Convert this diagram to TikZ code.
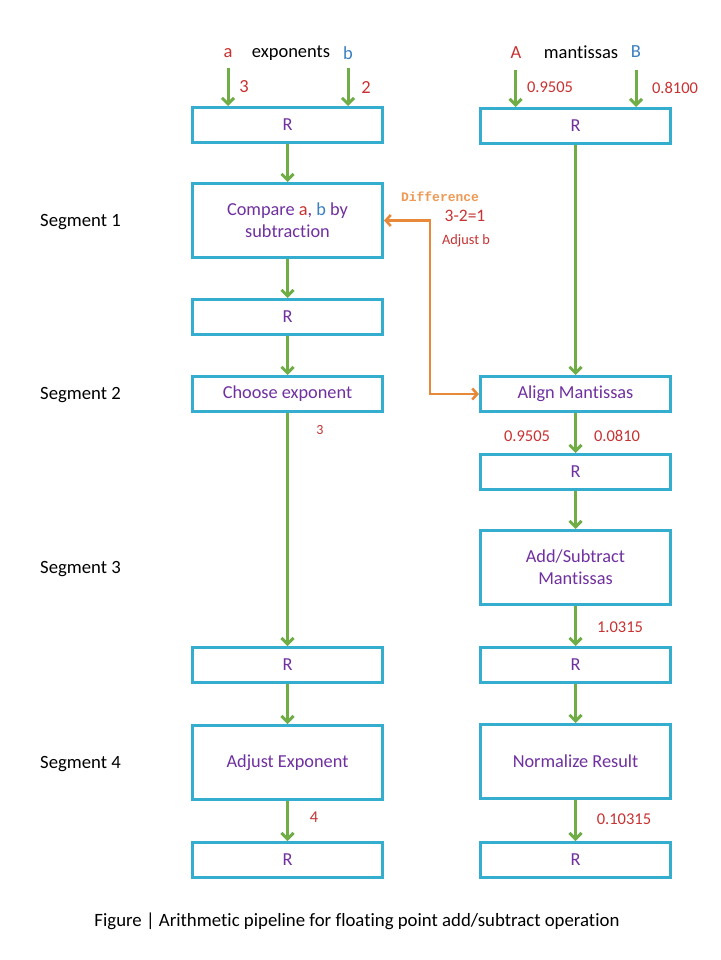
\documentclass[tikz,border=0pt]{standalone}
\usepackage{fontspec}
\setmainfont{Carlito}[Ligatures=NoCommon]
\newfontfamily\monofont{Liberation Mono}
\usetikzlibrary{arrows.meta}
\definecolor{boxblue}{HTML}{35ADCF}
\definecolor{agreen}{HTML}{70AD47}
\definecolor{txtpurple}{HTML}{7030A0}
\definecolor{lblred}{HTML}{C83232}
\definecolor{lblblue}{HTML}{3A80C0}
\definecolor{aorange}{HTML}{E8893A}
\definecolor{dorange}{HTML}{EE9A55}
\begin{document}
\begin{tikzpicture}[x=1pt,y=-1pt,
  box/.style={draw=boxblue, line width=3pt, minimum width=190pt, minimum height=35pt,
    inner sep=0pt, text=txtpurple, font=\fontsize{18.3}{22}\selectfont, align=center},
  tallbox/.style={box, minimum height=74pt},
  garrow/.style={draw=agreen, line width=3pt, -{Straight Barb[length=6pt,width=12pt]}},
  oarrow/.style={draw=aorange, line width=2.6pt, {Straight Barb[length=5pt,width=11pt]}-{Straight Barb[length=5pt,width=11pt]}},
  lbl/.style={text=lblred, font=\fontsize{16.5}{19}\selectfont, inner sep=0pt},
  slbl/.style={text=lblred, font=\fontsize{14}{16}\selectfont, inner sep=0pt},
  seg/.style={anchor=west, font=\fontsize{18.7}{22}\selectfont, inner sep=0pt},
  head/.style={font=\fontsize{18.5}{22}\selectfont, inner sep=0pt}
]
\useasboundingbox[fill=white] (0,0) rectangle (720,960);

% left column
\node[box] (lr1) at (287.5,125) {R};
\node[tallbox] (cmp) at (287.5,220.5) {Compare \textcolor{lblred}{a}, \textcolor{lblblue}{b} by\\subtraction};
\node[box] (lr2) at (287.5,317) {R};
\node[box] (cho) at (287.5,394) {Choose exponent};
\node[box] (lr3) at (287.5,665) {R};
\node[tallbox] (adj) at (287.5,762.5) {Adjust Exponent};
\node[box] (lr4) at (287.5,860) {R};

% right column
\node[box] (rr1) at (575.5,126) {R};
\node[box] (ali) at (575.5,394) {Align Mantissas};
\node[box] (rr2) at (575.5,472) {R};
\node[tallbox] (add) at (575.5,567.5) {Add/Subtract\\Mantissas};
\node[box] (rr3) at (575.5,665) {R};
\node[tallbox] (nor) at (575.5,761.5) {Normalize Result};
\node[box] (rr4) at (575.5,860) {R};

% headings
\node[head, text=lblred] (ha) at (228,53) {a};
\node[head] (hexp) at (291,53) {exponents};
\node[head, text=lblblue] (hb) at (348,53) {b};
\node[head, text=lblred] (hA) at (516,53) {A};
\node[head] (hman) at (581,52) {mantissas};
\node[head, text=lblblue] (hB) at (636,52) {B};

\coordinate (ia) at (228,68);
\coordinate (ib) at (348,68);
\coordinate (iA) at (515.5,70);
\coordinate (iB) at (636,70);
\draw[garrow] (ia) -- (ia |- lr1.north);
\draw[garrow] (ib) -- (ib |- lr1.north);
\draw[garrow] (iA) -- (iA |- rr1.north);
\draw[garrow] (iB) -- (iB |- rr1.north);

\node[lbl, font=\fontsize{18.5}{21}\selectfont] (l3) at (244,87) {3};
\node[lbl, font=\fontsize{18.5}{21}\selectfont] (l2) at (366,87) {2};
\node[lbl] (lA) at (550,87) {0.9505};
\node[lbl] (lB) at (675,88) {0.8100};

% segments
\node[seg] (s1) at (40,222) {Segment 1};
\node[seg] (s2) at (40,395) {Segment 2};
\node[seg] (s3) at (40,569) {Segment 3};
\node[seg] (s4) at (40,764) {Segment 4};

% left arrows
\draw[garrow] (lr1) -- (cmp);
\draw[garrow] (cmp) -- (lr2);
\draw[garrow] (lr2) -- (cho);
\draw[garrow] (cho) -- (lr3);
\draw[garrow] (lr3) -- (adj);
\draw[garrow] (adj) -- (lr4);

% right arrows
\draw[garrow] (rr1) -- (ali);
\draw[garrow] (ali) -- (rr2);
\draw[garrow] (rr2) -- (add);
\draw[garrow] (add) -- (rr3);
\draw[garrow] (rr3) -- (nor);
\draw[garrow] (nor) -- (rr4);

% difference connector
\draw[oarrow] (cmp.east) -- ++(46,0) |- (ali.west);
\node[inner sep=0pt, text=dorange, font=\monofont\bfseries\fontsize{13}{15}\selectfont] (dif) at (440,197) {Difference};
\node[lbl, font=\fontsize{17.5}{20}\selectfont] (d321) at (465,216) {3-2=1};
\node[slbl, font=\fontsize{14.3}{16}\selectfont] (adjb) at (466,241) {Adjust b};

% value labels
\node[slbl] (v3) at (320,430) {3};
\node[lbl] (v9505) at (527,436) {0.9505};
\node[lbl] (v0810) at (617,436) {0.0810};
\node[lbl] (v10315) at (620,627) {1.0315};
\node[lbl] (v4) at (314,817) {4};
\node[lbl] (v010315) at (624,819) {0.10315};

% caption
\node[inner sep=0pt, font=\fontsize{18.8}{22}\selectfont] (cap) at (357,921) {Figure | Arithmetic pipeline for floating point add/subtract operation};
\end{tikzpicture}
\end{document}
